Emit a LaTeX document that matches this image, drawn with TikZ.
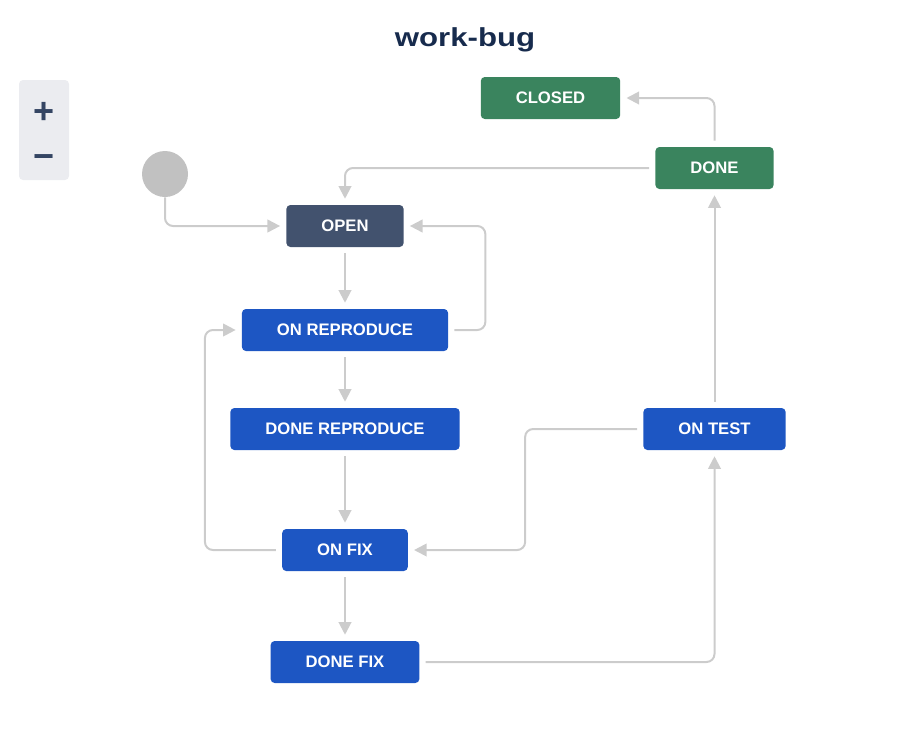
\documentclass[tikz,border=0pt]{standalone}
\usepackage{xcolor}
\usepackage{fontspec}
\usetikzlibrary{shapes}
\usetikzlibrary{calc}
\usetikzlibrary{positioning}
\usetikzlibrary{arrows.meta}
\newfontfamily\labelfont{Liberation Sans}
\newfontfamily\titlefont[FakeStretch=1.2]{Liberation Sans}
\definecolor{stateblue}{HTML}{1D56C3}
\definecolor{opengray}{HTML}{42526E}
\definecolor{donegreen}{HTML}{3A845E}
\definecolor{linegray}{HTML}{CCCCCC}
\definecolor{startgray}{HTML}{C1C1C1}
\definecolor{titlenavy}{HTML}{172B4D}
\definecolor{zoomfill}{HTML}{EBECF0}
\definecolor{zoomicon}{HTML}{344563}
\tikzstyle{state} = [rectangle, rounded corners=3pt, minimum height=31.5pt, inner xsep=26.25pt, inner ysep=0pt, text=white, fill=stateblue, font=\labelfont\bfseries\fontsize{12.5pt}{15pt}\selectfont]
\tikzstyle{openstate} = [state, fill=opengray]
\tikzstyle{donestate} = [state, fill=donegreen]
\tikzstyle{arrow} = [line width=1.5pt, draw=linegray, rounded corners=6pt, -{Triangle[length=9.5pt,width=9.5pt]}, shorten >=4.5pt, shorten <=4.5pt]
\tikzstyle{zoomsign} = [text=zoomicon, font=\labelfont\bfseries\fontsize{27pt}{30pt}\selectfont, inner sep=0pt]

\begin{document}
\begin{tikzpicture}[x=0.75pt,y=-0.75pt]

\useasboundingbox (0,0) rectangle (920,750);

\node[text=titlenavy, font=\titlefont\bfseries\fontsize{19.5pt}{23pt}\selectfont] (title) at (465,40) {work-bug};

\draw[fill=zoomfill, draw=none, rounded corners=3pt] (19,80) rectangle (69,180);
\node[zoomsign] (zoomin) at (44,113) {+};
\node[zoomsign] (zoomout) at (44,162) {−};

\node[circle, fill=startgray, minimum size=34.5pt, inner sep=0pt] (start) at (165,174) {};

\node[openstate] (open) at (345,226) {OPEN};
\node[donestate] (closed) at (550.5,98) {CLOSED};
\node[donestate] (done) at (714.5,168) {DONE};
\node[state] (onrepro) at (345,330) {ON REPRODUCE};
\node[state] (donerepro) at (345,429) {DONE REPRODUCE};
\node[state] (onfix) at (345,550) {ON FIX};
\node[state] (donefix) at (345,662) {DONE FIX};
\node[state] (ontest) at (714.5,429) {ON TEST};

\draw[arrow, shorten <=0pt] (start.south) |- (open.west);
\draw[arrow] (done.west) -| (open.north);
\draw[arrow] (done.north) |- (closed.east);
\draw[arrow] (onrepro.east) -- ++(37,0) |- (open.east);
\draw[arrow] (open.south) -- (onrepro.north);
\draw[arrow] (onrepro.south) -- (donerepro.north);
\draw[arrow] (donerepro.south) -- (onfix.north);
\draw[arrow] (onfix.south) -- (donefix.north);
\draw[arrow] (onfix.west) -- ++(-77,0) |- (onrepro.west);
\draw[arrow] (ontest.west) -- ++(-118,0) |- (onfix.east);
\draw[arrow] (donefix.east) -| (ontest.south);
\draw[arrow] (ontest.north) -- (done.south);

\end{tikzpicture}
\end{document}
